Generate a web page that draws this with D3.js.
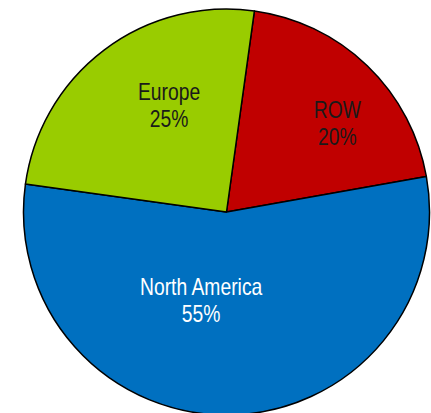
<!DOCTYPE html>
<html>
<head>
<meta charset="utf-8">
<script src="https://cdn.jsdelivr.net/npm/d3@7"></script>
<style>
  html, body { margin: 0; padding: 0; background: #fff; }
  svg { display: block; }
  text { font-family: "Liberation Sans Narrow", "Arial Narrow", "Liberation Sans", Arial, sans-serif; }
</style>
</head>
<body>
<svg id="chart" width="431" height="413"></svg>
<script>
// Data
const categories = ["ROW", "North America", "Europe"];
const values = [20, 55, 25];
const percentLabels = ["20%", "55%", "25%"];
const colors = ["#C00000", "#0070C0", "#99CC00"];
const textColors = ["#1a1a1a", "#ffffff", "#1a1a1a"];
// label anchor (fraction of radius, relative to pie center)
const labelAnchors = [[0.546, -0.437], [-0.125, 0.434], [-0.283, -0.525]];

const W = 431, H = 413;
const cx = 226.5, cy = 212, R = 203;
const svg = d3.select("#chart");
const g = svg.append("g").attr("transform", `translate(${cx},${cy})`);

const pie = d3.pie().sort(null).startAngle(7.9 * Math.PI / 180).endAngle(7.9 * Math.PI / 180 + 2 * Math.PI);
const arcs = pie(values);
const arc = d3.arc().innerRadius(0).outerRadius(R);

g.selectAll("path.slice")
  .data(arcs)
  .join("path")
  .attr("class", "slice")
  .attr("d", arc)
  .attr("fill", (d, i) => colors[i])
  .attr("stroke", "#000")
  .attr("stroke-width", 1.5)
  .attr("stroke-linejoin", "round");

const labels = g.selectAll("g.lbl")
  .data(arcs)
  .join("g")
  .attr("class", "lbl")
  .attr("transform", (d, i) => `translate(${labelAnchors[i][0] * R},${labelAnchors[i][1] * R}) scale(0.84,1)`);

labels.append("text")
  .attr("text-anchor", "middle")
  .attr("y", -5)
  .attr("font-size", 23)
  .attr("fill", (d, i) => textColors[i])
  .text((d, i) => categories[i]);

labels.append("text")
  .attr("text-anchor", "middle")
  .attr("y", 21.5)
  .attr("font-size", 23)
  .attr("fill", (d, i) => textColors[i])
  .text((d, i) => percentLabels[i]);
</script>
</body>
</html>
